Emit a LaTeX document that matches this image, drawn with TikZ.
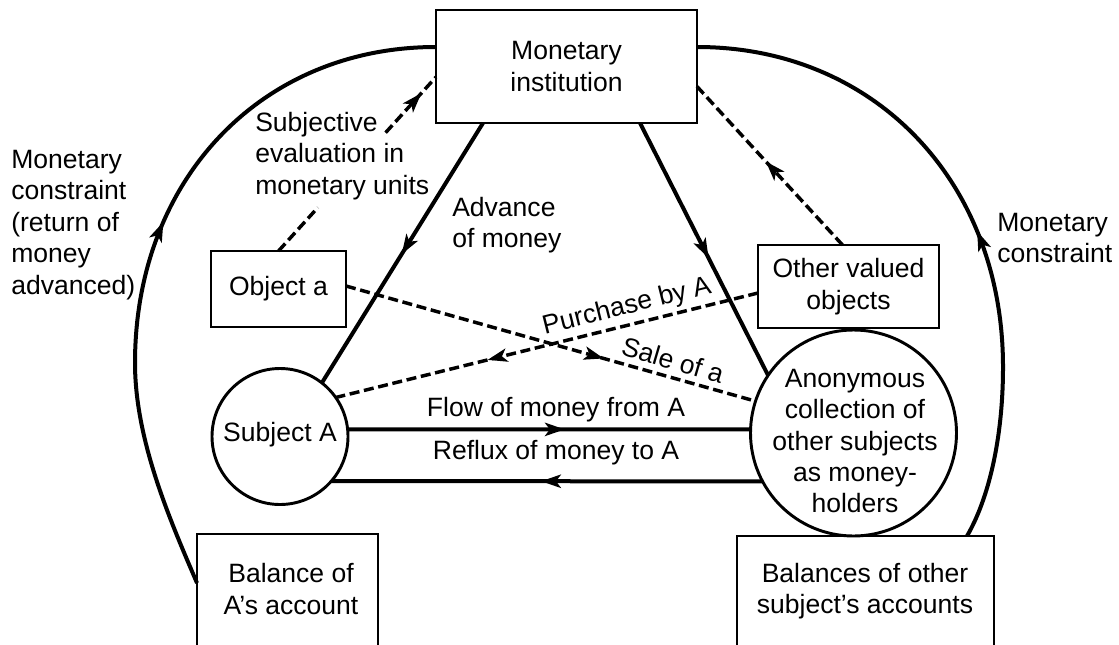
\documentclass[tikz,border=0pt]{standalone}
\usepackage{fontspec}
\setmainfont{Liberation Sans}
\usetikzlibrary{arrows.meta,calc,decorations.markings}
\begin{document}
\begin{tikzpicture}[x=0.75pt,y=-0.75pt,
  font=\fontsize{19.9}{23.6}\selectfont,
  box/.style={draw, line width=2pt, rectangle, inner sep=0pt, outer sep=0pt, align=center},
  circ/.style={draw, line width=2.2pt, circle, inner sep=0pt, outer sep=0pt},
  lbl/.style={inner sep=0pt, align=left},
  conn/.style={line width=3pt},
  dsh/.style={line width=2.6pt, dash pattern=on 7.5pt off 3.5pt},
  midarrow/.style={postaction={decorate, decoration={markings, mark=at position #1 with {\fill[solid] (1pt,0pt) -- (-14pt,5.2pt) -- (-10pt,0pt) -- (-14pt,-5.2pt) -- cycle;}}}}]
\useasboundingbox (0,0) rectangle (1119,645);
\fill[white] (0,0) rectangle (1119,645);
\clip (0,0) rectangle (1119,645);

% nodes
\node[box, minimum width=195.75pt, minimum height=84.75pt] (mi) at (566.5,66.5) {Monetary\\institution};
\node[box, minimum width=101.25pt, minimum height=57pt] (obja) at (278.5,289) {Object a};
\node[box, minimum width=135.75pt, minimum height=62.25pt] (ova) at (848.5,286.5) {Other valued\\objects};
\node[circ, minimum size=102pt] (subA) at (280,436.5) {};
\node[lbl] (subAt) at (280,435) {Subject A};
\node[circ, minimum size=154.5pt] (anon) at (853.5,433) {};
\node[lbl, align=center] (anont) at (855,441) {Anonymous\\collection of\\other subjects\\as money-\\holders};
\node[box, minimum width=135.75pt, minimum height=112.5pt] (bala) at (287.5,609) {};
\node[lbl, align=center] (balat) at (291,589) {Balance of\\A’s account};
\node[box, minimum width=192.75pt, minimum height=112.5pt] (balo) at (865.5,611) {};
\node[lbl, align=center] (balot) at (865,591) {Balances of other\\subject’s accounts};

% labels
\node[lbl, anchor=west] (lconstr) at (11,225) {Monetary\\constraint\\(return of\\money\\advanced)};
\node[lbl, anchor=west] (rconstr) at (997,238) {Monetary\\constraint};
\node[lbl, anchor=west] (subjev) at (255,156) {Subjective\\evaluation in\\monetary units};
\node[lbl, anchor=west] (adv) at (452,225) {Advance\\of money};
\node[lbl, align=center] (flowl) at (556,410) {Flow of money from A};
\node[lbl, align=center] (refl) at (556,453) {Reflux of money to A};
\node[lbl, rotate=-16.5] (salel) at (673,360) {Sale of a};
\node[lbl, rotate=14] (purl) at (627,307) {Purchase by A};

% solid connectors
\draw[conn, midarrow=0.5] ($(mi.south west)+(47,0)$) -- (subA.52);
\draw[conn, midarrow=0.53] ($(mi.south west)+(204,0)$) -- (anon.146);
\draw[conn, midarrow=0.535] (subA.6) -- (anon.178);
\draw[conn, midarrow=0.51] (anon.208) -- (subA.-41);

% dashed connectors
\draw[dsh, midarrow=0.626] ($(obja.east)+(0,-3)$) -- (anon.162);
\draw[dsh, midarrow=0.637] ($(ova.west)+(0,6.5)$) -- (subA.35);
\draw[dsh, midarrow=0.52] ($(ova.north)+(-6,0)$) -- ($(mi.east)+(0,20)$);
\coordinate (sjtop) at ($(mi.west)+(0,10.5)$);
\coordinate (sjlow) at ($(obja.north)!0.25!(sjtop)$);
\coordinate (sjup) at ($(obja.north)!0.68!(sjtop)$);
\draw[dsh] (obja.north) -- (sjlow);
\draw[dsh, midarrow=0.69] (sjup) -- (sjtop);

% big arcs
\draw[conn, midarrow=0.52] ($(bala.north west)+(0,49)$) .. controls (170,520) and (135,440) .. (135,363)
   .. controls (135,180) and (261,47) .. ($(mi.north west)+(0,37)$);
\draw[conn, midarrow=0.466] ($(balo.north west)+(230,0)$) .. controls (988,500) and (1003,440) .. (1003,367)
   .. controls (1003,181) and (874,47) .. ($(mi.north east)+(0,37)$);
\end{tikzpicture}
\end{document}
